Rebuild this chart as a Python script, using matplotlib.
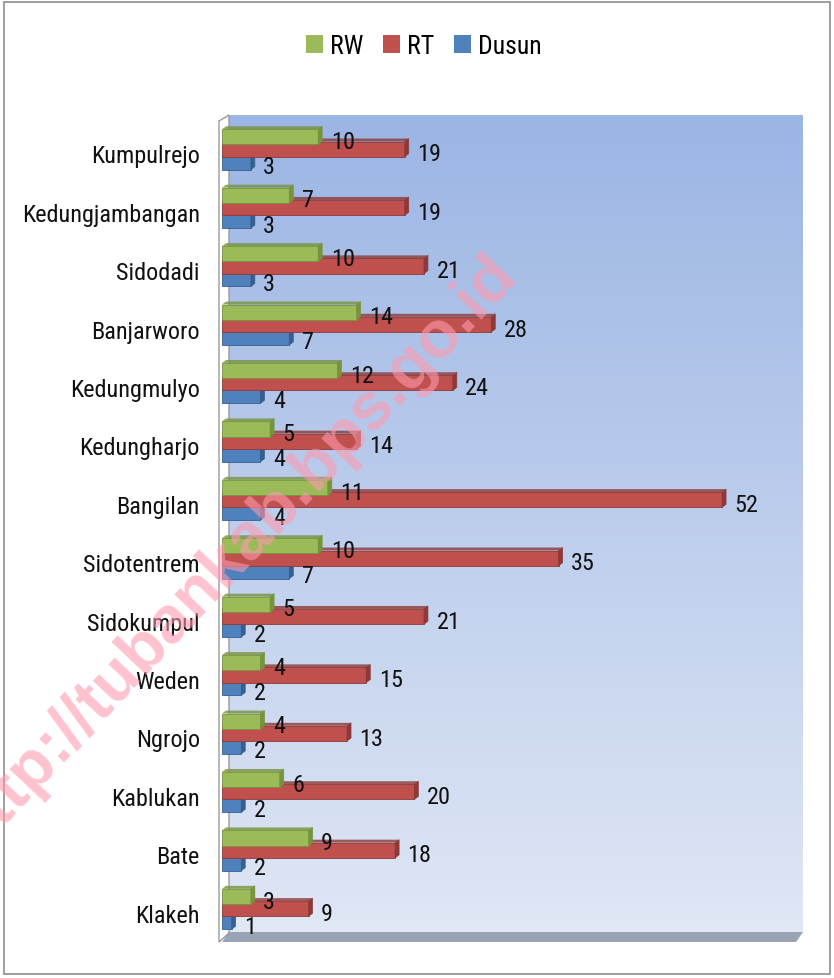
import matplotlib
matplotlib.use("Agg")
import matplotlib.pyplot as plt
import numpy as np
from matplotlib.patches import Polygon, Rectangle, Patch
from matplotlib import font_manager

categories = ["Kumpulrejo", "Kedungjambangan", "Sidodadi", "Banjarworo", "Kedungmulyo",
              "Kedungharjo", "Bangilan", "Sidotentrem", "Sidokumpul", "Weden", "Ngrojo",
              "Kablukan", "Bate", "Klakeh"]
rw = [10, 7, 10, 14, 12, 5, 11, 10, 5, 4, 4, 6, 9, 3]
rt = [19, 19, 21, 28, 24, 14, 52, 35, 21, 15, 13, 20, 18, 9]
dusun = [3, 3, 3, 7, 4, 4, 4, 7, 2, 2, 2, 2, 2, 1]
series_names = ["RW", "RT", "Dusun"]

available = {f.name for f in font_manager.fontManager.ttflist}
candidates = ["Liberation Sans Narrow", "Roboto Condensed", "Open Sans Condensed", "Lato", "Liberation Sans"]
chosen = [c for c in candidates if c in available]
FONT = chosen[:1] + ["DejaVu Sans"]
narrow = FONT[0] in ("Liberation Sans Narrow", "Roboto Condensed", "Open Sans Condensed")
lab_fs = 17.5 if narrow else 15

W, H = 834, 979
fig = plt.figure(figsize=(W / 100, H / 100), dpi=100)
fig.patch.set_facecolor("white")

def fx(px):
    return px / W

def fy(py):
    return 1 - py / H

front_l, front_r, front_t, front_b = 222, 799, 125, 943
dpx, dpy = 7, 9

bg = fig.add_axes([0, 0, 1, 1])
bg.set_xlim(0, W)
bg.set_ylim(H, 0)
bg.axis("off")
bg.set_zorder(0)

grad = np.linspace(0, 1, 256).reshape(-1, 1)
top_c = np.array([155, 181, 228]) / 255
bot_c = np.array([224, 231, 245]) / 255
img = top_c[None, None, :] * (1 - grad[:, :, None]) + bot_c[None, None, :] * grad[:, :, None]
bg.imshow(img, extent=(front_l + dpx, front_r + 4, front_b - dpy, front_t - dpy),
          aspect="auto", zorder=1)
bg.add_patch(Polygon([(front_l, front_b), (front_r - 3, front_b), (front_r + 4, front_b - dpy - 1),
                      (front_l + dpx, front_b - dpy - 1)], closed=True,
                     facecolor="#98a3b6", edgecolor="none", zorder=2))
bg.add_patch(Polygon([(front_l - 3, front_b), (front_l - 3, front_t - 3), (front_l + dpx, front_t - dpy),
                      (front_l + dpx, front_b - dpy)], closed=True,
                     facecolor="white", edgecolor="#9a9a9a", linewidth=1.0, zorder=2))
bg.add_patch(Rectangle((4, 3), W - 8, H - 7, facecolor="none", edgecolor="#8e8e8e", linewidth=1.2, zorder=3))

ax = fig.add_axes([fx(front_l), fy(front_b), fx(front_r - front_l), (front_b - front_t) / H])
ax.set_zorder(1)
ax.patch.set_alpha(0)
ax.set_xlim(0, 60)
n = len(categories)
ax.set_ylim(n - 0.5, -0.5)
for s in ax.spines.values():
    s.set_visible(False)
ax.set_xticks([])
y = np.arange(n)
ax.set_yticks(y)
ax.set_yticklabels(categories, fontsize=lab_fs, family=FONT, color="#111111")
ax.tick_params(axis="y", length=0, pad=16)

px_x = 60 / (front_r - front_l)
px_y = n / (front_b - front_t)
depth_x, depth_y = 4 * px_x, 3 * px_y

specs = [
    (rw, -0.28, "#9bbb59", "#77933c", 4),
    (rt, -0.07, "#c0504d", "#8c3a38", 3),
    (dusun, 0.15, "#4f81bd", "#365f91", 2),
]
h = 0.26
for vals, off, col, dark, z in specs:
    ys = y + off
    ax.barh(ys, vals, height=h, color=col, edgecolor=dark, linewidth=0.6, zorder=z)
    for v, yc in zip(vals, ys):
        y0, y1 = yc - h / 2, yc + h / 2
        ax.add_patch(Polygon([(v, y0), (v, y1), (v + depth_x, y1 - depth_y), (v + depth_x, y0 - depth_y)],
                             closed=True, facecolor=dark, edgecolor=dark, linewidth=0.5, zorder=z))
        ax.add_patch(Polygon([(0, y0), (v, y0), (v + depth_x, y0 - depth_y), (depth_x, y0 - depth_y)],
                             closed=True, facecolor=dark, edgecolor="none", alpha=0.8, zorder=z))
        ax.annotate(str(v), (v, yc + 0.08), xytext=(9, 0), textcoords="offset points",
                    ha="left", va="center", fontsize=lab_fs, family=FONT, color="#111111", zorder=10,
                    annotation_clip=False)

handles = [Patch(facecolor=c, edgecolor="none") for c in ["#9bbb59", "#c0504d", "#4f81bd"]]
fig.legend(handles, series_names, loc="center", bbox_to_anchor=(fx(424), fy(47)), ncol=3,
           frameon=False, prop={"family": FONT, "size": lab_fs + 1}, handlelength=0.65, handleheight=0.65,
           handletextpad=0.3, columnspacing=0.75)

fig.text(fx(233), fy(553), "http://tubankab.bps.go.id", rotation=46.7, rotation_mode="anchor",
         ha="center", va="center", fontsize=48, fontweight="bold", family=["Liberation Sans", "DejaVu Sans"],
         color="#ff9aae", alpha=0.6, zorder=20)

fig.savefig("out.png", dpi=100, facecolor="white")
